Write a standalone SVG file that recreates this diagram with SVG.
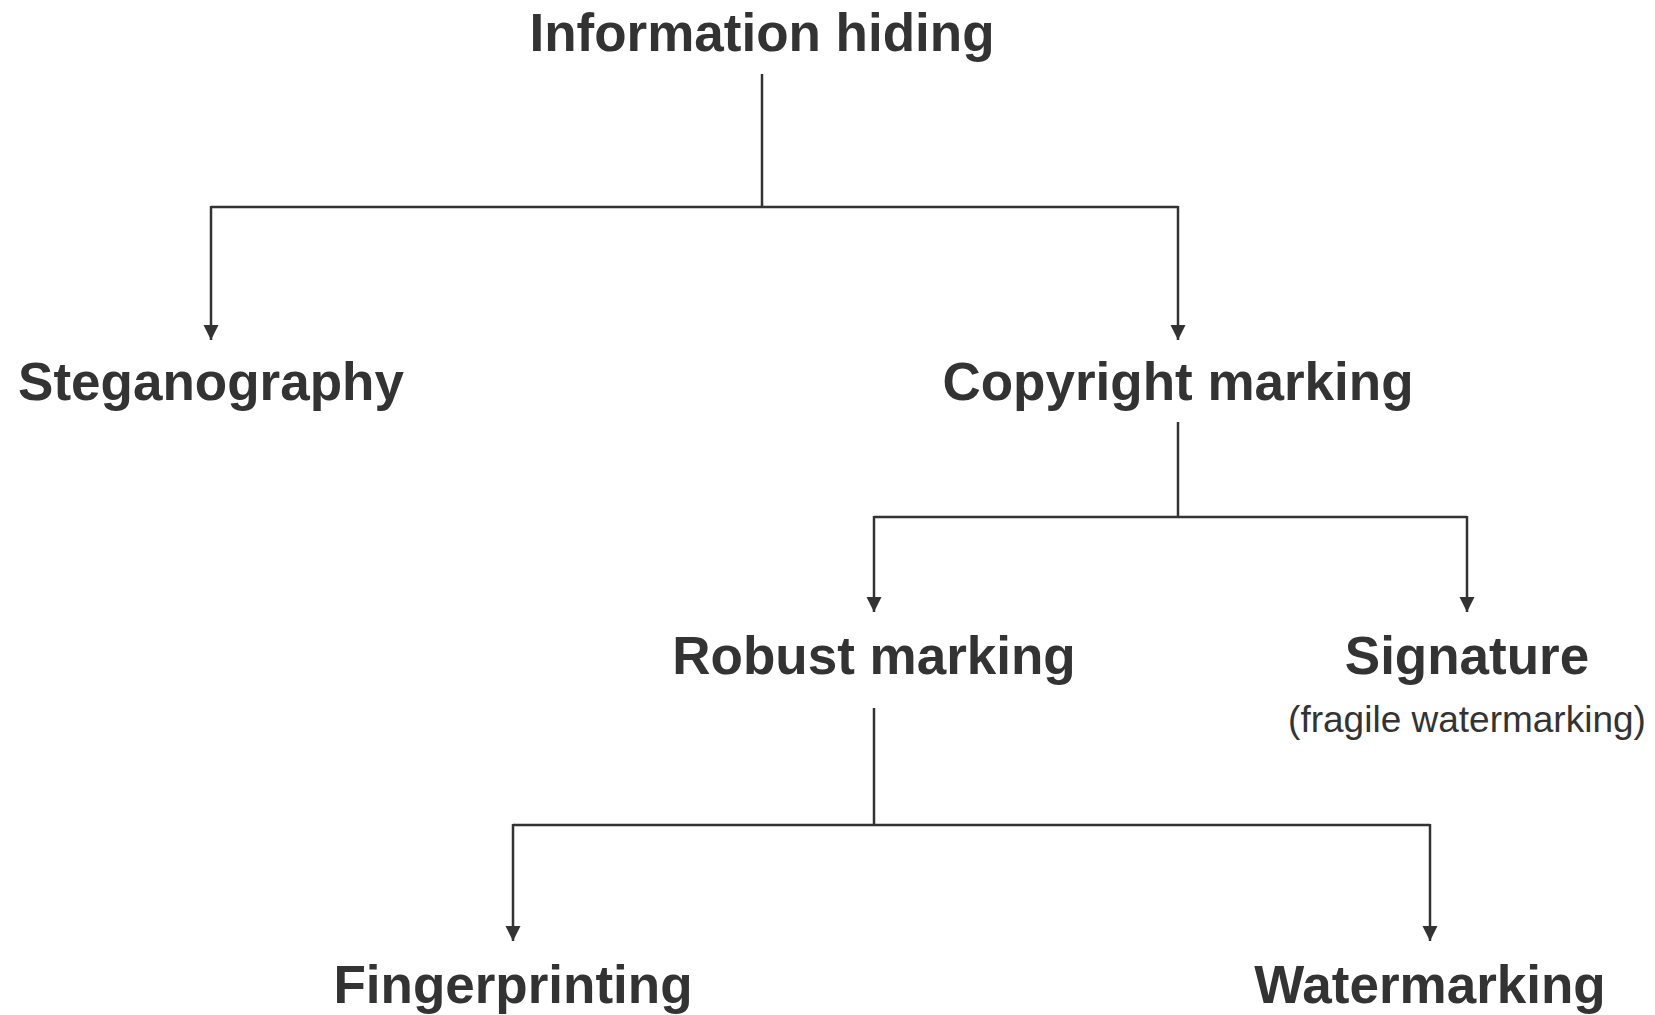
<svg xmlns="http://www.w3.org/2000/svg" width="1655" height="1015" viewBox="0 0 1655 1015">
  <style>
    .lbl { font-family: "Liberation Sans", Arial, sans-serif; font-weight: bold; font-size: 53px; fill: #333333; text-anchor: middle; }
    .sub { font-family: "Liberation Sans", Arial, sans-serif; font-size: 37px; fill: #333333; text-anchor: middle; }
    .wire { fill: none; stroke: #333333; stroke-width: 2.5; }
  </style>
  <defs>
    <!-- filled triangle head, pointing along the line direction -->
    <marker id="arrow" markerUnits="userSpaceOnUse" markerWidth="16" markerHeight="16" viewBox="0 0 16 16" refX="15" refY="8" orient="auto">
      <path d="M0,0.5 L15,8 L0,15.5 Z" fill="#333333"/>
    </marker>
  </defs>
  <rect width="1655" height="1015" fill="#ffffff"/>

  <g id="connectors">
    <!-- Information hiding -> Steganography / Copyright marking -->
    <path class="wire" d="M762,74 V207"/>
    <path class="wire" d="M211,207 H1178"/>
    <line class="wire" x1="211" y1="206" x2="211" y2="340" marker-end="url(#arrow)"/>
    <line class="wire" x1="1178" y1="206" x2="1178" y2="340" marker-end="url(#arrow)"/>
    <!-- Copyright marking -> Robust marking / Signature -->
    <path class="wire" d="M1178,422 V517"/>
    <path class="wire" d="M874,517 H1467"/>
    <line class="wire" x1="874" y1="516" x2="874" y2="612" marker-end="url(#arrow)"/>
    <line class="wire" x1="1467" y1="516" x2="1467" y2="612" marker-end="url(#arrow)"/>
    <!-- Robust marking -> Fingerprinting / Watermarking -->
    <path class="wire" d="M874,708 V825"/>
    <path class="wire" d="M513,825 H1430"/>
    <line class="wire" x1="513" y1="824" x2="513" y2="941" marker-end="url(#arrow)"/>
    <line class="wire" x1="1430" y1="824" x2="1430" y2="941" marker-end="url(#arrow)"/>
  </g>

  <g id="information-hiding">
    <text class="lbl" x="762" y="51">Information hiding</text>
  </g>
  <g id="steganography">
    <text class="lbl" x="211" y="400">Steganography</text>
  </g>
  <g id="copyright-marking">
    <text class="lbl" x="1178" y="400">Copyright marking</text>
  </g>
  <g id="robust-marking">
    <text class="lbl" x="874" y="674">Robust marking</text>
  </g>
  <g id="signature">
    <text class="lbl" x="1467" y="674">Signature</text>
    <text class="sub" x="1467" y="732">(fragile watermarking)</text>
  </g>
  <g id="fingerprinting">
    <text class="lbl" x="513" y="1003">Fingerprinting</text>
  </g>
  <g id="watermarking">
    <text class="lbl" x="1430" y="1003">Watermarking</text>
  </g>
</svg>
